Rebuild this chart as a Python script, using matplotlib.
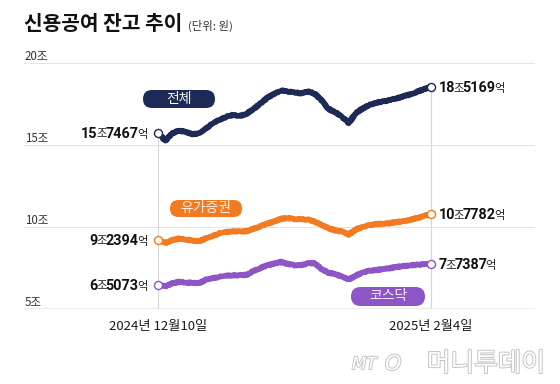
import matplotlib
matplotlib.use('Agg')
import matplotlib.pyplot as plt
import numpy as np
from matplotlib.patches import FancyBboxPatch
from matplotlib.transforms import IdentityTransform
import matplotlib.patheffects as pe

plt.rcParams['font.family'] = ['Noto Sans CJK KR', 'DejaVu Sans']

# ---------------- data ----------------
title = '신용공여 잔고 추이'
unit_note = '(단위: 원)'
date_labels = ['2024년 12월10일', '2025년 2월4일']
series_names = ['전체', '유가증권', '코스닥']
y_ticks = [5, 10, 15, 20]
y_tick_labels = ['5조', '10조', '15조', '20조']

# 조원 (trillion won)
total = [15.7467, 15.25, 15.69, 15.88, 15.79, 15.66, 15.70, 16.01, 16.30, 16.54,
         16.71, 16.83, 16.76, 16.90, 17.18, 17.52, 17.86, 18.10, 18.31, 18.25,
         18.19, 18.14, 18.26, 18.11, 17.71, 17.19, 17.00, 16.70, 16.33, 16.92,
         17.21, 17.43, 17.56, 17.64, 17.73, 17.82, 17.95, 18.08, 18.22, 18.38,
         18.5169]
kospi = [9.2394, 9.02, 9.21, 9.30, 9.25, 9.18, 9.15, 9.32, 9.47, 9.62,
         9.70, 9.75, 9.73, 9.76, 9.90, 10.05, 10.21, 10.34, 10.50, 10.55,
         10.49, 10.48, 10.45, 10.33, 10.14, 9.93, 9.80, 9.72, 9.55, 9.86,
         10.00, 10.12, 10.18, 10.20, 10.24, 10.31, 10.36, 10.44, 10.55, 10.67,
         10.7782]
kosdaq = [6.5073, 6.39, 6.58, 6.67, 6.63, 6.61, 6.60, 6.80, 6.91, 6.97,
          7.04, 7.07, 7.07, 7.10, 7.34, 7.51, 7.67, 7.78, 7.88, 7.76,
          7.69, 7.68, 7.80, 7.80, 7.45, 7.22, 7.14, 6.98, 6.82, 7.05,
          7.23, 7.35, 7.38, 7.45, 7.50, 7.58, 7.63, 7.67, 7.71, 7.75,
          7.7387]

# ---------------- style ----------------
NAVY = '#1d2a55'
ORANGE = '#f27a21'
PURPLE = '#8d55c5'
colors = [NAVY, ORANGE, PURPLE]
NUM_FONT = ['Liberation Sans Narrow', 'Roboto', 'DejaVu Sans']
KR_FONT = ['Noto Sans CJK KR', 'DejaVu Sans']

W, H = 560, 384
fig = plt.figure(figsize=(W / 100, H / 100), dpi=100)
fig.patch.set_facecolor('white')

X0, X1 = 158.3, 430.5      # pixel x of first/last point
AL, AR = 24, 535           # axes left/right pixel
YB, YT = 309.3, 62.7       # pixel y of 5조 / 20조
ax = fig.add_axes([AL / W, 1 - YB / H, (AR - AL) / W, (YB - YT) / H])
ax.axis('off')

data = [total, kospi, kosdaq]
n = len(total)
x = np.arange(n)
step = (X1 - X0) / (n - 1)
ax.set_xlim(-(X0 - AL) / step, (n - 1) + (AR - X1) / step)
ax.set_ylim(5, 20)

# gridlines & baseline
for t, lab in zip(y_ticks, y_tick_labels):
    if t == 5:
        ax.axhline(t, color='#9a9a9a', lw=1.0, zorder=1)
    else:
        ax.axhline(t, color='#e4e4e4', lw=0.8, zorder=0)
    ax.annotate(lab, xy=(0.002, t), xycoords=('axes fraction', 'data'),
                xytext=(0, 3), textcoords='offset pixels',
                ha='left', va='baseline', fontsize=8.3, color='#333333')

# vertical reference lines
ax.plot([0, 0], [5, total[0]], color='#d6d6d6', lw=0.8, zorder=1)
ax.plot([n - 1, n - 1], [5, total[-1]], color='#d6d6d6', lw=0.8, zorder=1)

# lines + end markers
for vals, c in zip(data, colors):
    ln, = ax.plot(x, vals, color=c, lw=4.0, solid_capstyle='round',
                  solid_joinstyle='round', zorder=3)
    ln.set_sketch_params(scale=0.6, length=3, randomness=2)
    ax.plot([0, n - 1], [vals[0], vals[-1]], 'o', ms=5.8, mfc='white',
            mec=c, mew=1.0, zorder=5)


def fmt_parts(v):
    jo = int(v)
    eok = int(round((v - jo) * 10000))
    return [(str(jo), 'n'), ('조', 'u'), (f'{eok:04d}', 'n'), ('억', 'u')]


def piece_kw(kind):
    if kind == 'n':
        return dict(fontsize=10.4, fontweight='bold', family=NUM_FONT,
                    color='#111111')
    return dict(fontsize=8.2, family=KR_FONT, color='#222222')


GAP = -1.5


def value_label(xi, v, side):
    parts = fmt_parts(v)
    dy = -5
    if side == 'right':
        prev = None
        for s, k in parts:
            if prev is None:
                prev = ax.annotate(s, xy=(xi, v), xycoords='data',
                                   xytext=(8, dy), textcoords='offset pixels',
                                   ha='left', va='baseline', zorder=8,
                                   **piece_kw(k))
            else:
                prev = ax.annotate(s, xy=(1, v), xycoords=(prev, 'data'),
                                   xytext=(GAP, dy), textcoords='offset pixels',
                                   ha='left', va='baseline', zorder=8,
                                   **piece_kw(k))
    else:
        nxt = None
        for s, k in reversed(parts):
            if nxt is None:
                nxt = ax.annotate(s, xy=(xi, v), xycoords='data',
                                  xytext=(-11, dy), textcoords='offset pixels',
                                  ha='right', va='baseline', zorder=8,
                                  **piece_kw(k))
            else:
                nxt = ax.annotate(s, xy=(0, v), xycoords=(nxt, 'data'),
                                  xytext=(-GAP, dy), textcoords='offset pixels',
                                  ha='right', va='baseline', zorder=8,
                                  **piece_kw(k))


for vals in data:
    value_label(0, vals[0], 'left')
    value_label(n - 1, vals[-1], 'right')

# date labels
ax.annotate(date_labels[0], xy=(0, 5), xytext=(0, -17), textcoords='offset pixels',
            ha='center', va='center', fontsize=9.5, color='#1a1a1a')
ax.annotate(date_labels[1], xy=(n - 1, 5), xytext=(0, -17), textcoords='offset pixels',
            ha='center', va='center', fontsize=9.5, color='#1a1a1a')


# pills (legend-like labels), pixel layout
def pill(cx, cy, w, h, text, color, tcolor):
    dy = H - cy
    p = FancyBboxPatch((cx - w / 2, dy - h / 2), w, h,
                       boxstyle=f'round,pad=0,rounding_size={h / 2}',
                       transform=IdentityTransform(), fc=color, ec='none', zorder=6)
    fig.add_artist(p)
    fig.text(cx / W, (dy + 0.5) / H, text, ha='center', va='center', color=tcolor,
             fontsize=10, zorder=7)


pill(179, 99, 72, 18, series_names[0], NAVY, 'white')
pill(206, 208.5, 72, 17, series_names[1], ORANGE, '#fff1e2')
pill(388, 296.5, 74, 19, series_names[2], PURPLE, '#f4ecfb')

# title
fig.text(AL / W, 1 - 24 / H, title, ha='left', va='center', fontsize=14.6,
         fontweight='black', color='#111111')
fig.text(188 / W, 1 - 26 / H, unit_note, ha='left', va='center', fontsize=8.2,
         color='#333333')

# watermark
stroke = [pe.withStroke(linewidth=1.4, foreground='#c4c4c4')]
fig.text(352 / W, 1 - 364 / H, 'MT', ha='left', va='center', fontsize=12,
         style='italic', color='white', path_effects=stroke, family=['DejaVu Sans'])
fig.text(385 / W, 1 - 364 / H, 'O', ha='left', va='center', fontsize=15,
         style='italic', color='white', path_effects=stroke, family=['DejaVu Sans'])
fig.text(545 / W, 1 - 364 / H, '머니투데이', ha='right', va='center', fontsize=18.5,
         color='white', path_effects=stroke, fontweight='light')

fig.savefig('out.png', dpi=100, facecolor='white')
